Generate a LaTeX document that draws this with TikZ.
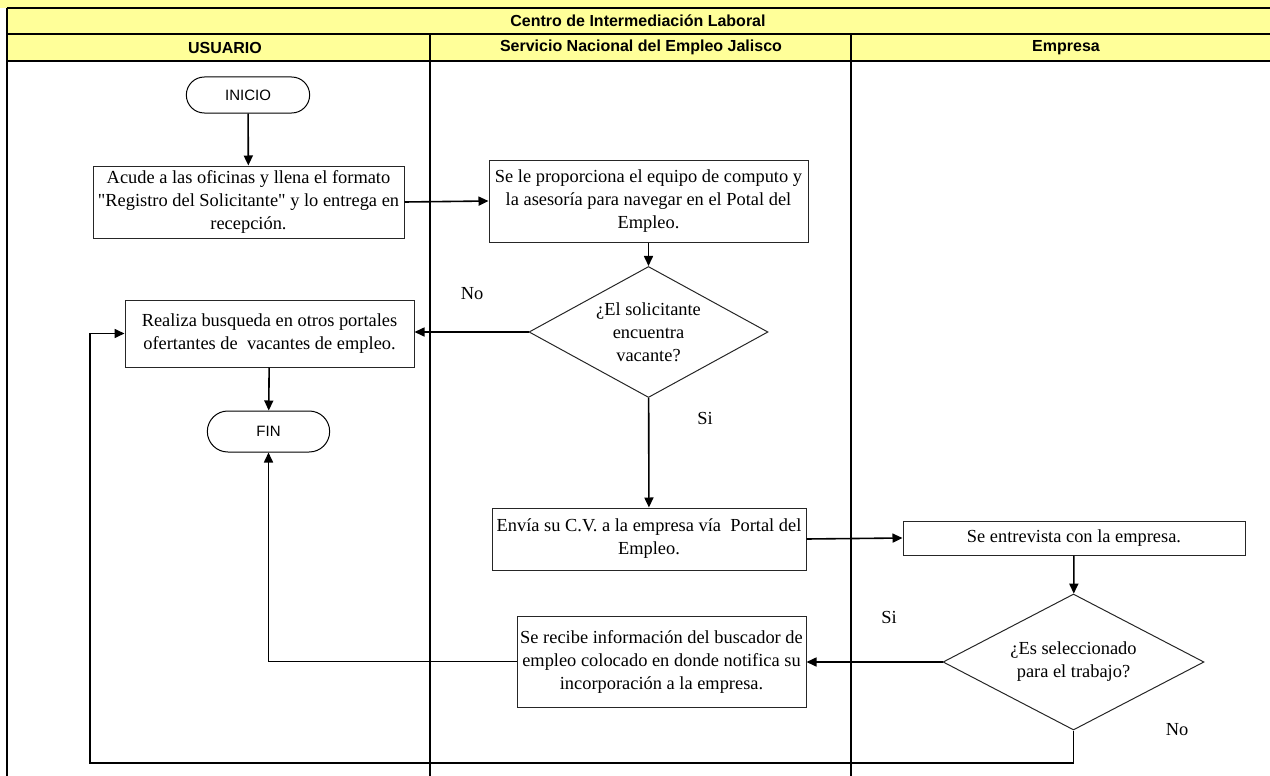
\documentclass[tikz,border=0pt]{standalone}
\usepackage{fontspec}
\setmainfont{Liberation Serif}
\setsansfont{Liberation Sans}
\usepackage{tikz}
\usetikzlibrary{arrows.meta}
\usetikzlibrary{shapes.geometric}
\usetikzlibrary{shapes.misc}
\usetikzlibrary{positioning}

\definecolor{encabezado}{HTML}{FFFF99}

\begin{document}
\begin{tikzpicture}[x=1pt,y=-1pt,
    font=\fontsize{18.4}{23}\selectfont,
    proceso/.style={draw=black!85,line width=1pt,rectangle,align=center,inner sep=2pt},
    decision/.style={draw=black!85,line width=1pt,diamond,inner sep=0pt},
    terminal/.style={draw,line width=1pt,rounded rectangle,font=\sffamily\fontsize{15}{17}\selectfont},
    titulo/.style={font=\sffamily\bfseries\fontsize{16}{18}\selectfont},
    flecha/.style={line width=1.6pt,-{Triangle[length=10pt,width=9pt]}},
    carril/.style={line width=2.8pt}]

  \useasboundingbox (0,0) rectangle (1270,776);

  % encabezado
  \fill [encabezado] (0,0) rectangle (1270,8);
  \fill [encabezado] (7,8) rectangle (1270,61);
  \draw [carril] (7,8) -- (1270,8);
  \draw [carril] (7,34) -- (1270,34);
  \draw [carril] (7,61) -- (1270,61);
  \draw [carril] (7,8) -- (7,776);
  \draw [carril] (430,34) -- (430,776);
  \draw [carril] (851,34) -- (851,776);

  \node [titulo] (centro)   at (638,21)   {Centro de Intermediación Laboral};
  \node [titulo] (usuario)  at (225,47.5) {USUARIO};
  \node [titulo] (servicio) at (641,47.5) {Servicio Nacional del Empleo Jalisco};
  \node [titulo] (empresa)  at (1066,47.5) {Empresa};

  % nodos
  \node [terminal,minimum width=130,minimum height=36] (inicio) at (248,95) {INICIO};
  \node [proceso,minimum width=311,minimum height=72] (acude) at (248.5,202)
    {Acude a las oficinas y llena el formato\\\textquotedbl Registro del Solicitante\textquotedbl{} y lo entrega en\\recepción.};
  \node [proceso,minimum width=319,minimum height=82] (proporciona) at (648.5,201)
    {Se le proporciona el equipo de computo y\\la asesoría para navegar en el Potal del\\Empleo.};
  \node [decision,minimum width=239,minimum height=131,
    label={[align=center]center:¿El solicitante\\encuentra\\vacante?}] (encuentra) at (648.5,332) {};
  \node [proceso,minimum width=289,minimum height=67] (realiza) at (269.5,333.5)
    {Realiza busqueda en otros portales\\ofertantes de\ \ vacantes de empleo.};
  \node [terminal,minimum width=129,minimum height=41] (fin) at (268.5,431.5) {FIN};
  \node [proceso,minimum width=314,minimum height=62] (envia) at (649,539)
    {Envía su C.V. a la empresa vía\ \ Portal del\\Empleo.};
  \node [proceso,minimum width=342,minimum height=34] (entrevista) at (1074,538)
    {Se entrevista con la empresa.};
  \node [decision,minimum width=261,minimum height=136,
    label={[align=center]center:¿Es seleccionado\\para el trabajo?}] (seleccionado) at (1073.5,662) {};
  \node [proceso,minimum width=289,minimum height=91] (recibe) at (661.5,661.5)
    {Se recibe información del buscador de\\empleo colocado en donde notifica su\\incorporación a la empresa.};

  \node (no1) at (472,294) {No};
  \node (si1) at (705,418) {Si};
  \node (si2) at (889,617) {Si};
  \node (no2) at (1177,730) {No};

  \coordinate (vuelta) at (90,763);

  % conexiones
  \draw [flecha] (inicio) -- (acude);
  \draw [flecha] (acude.east) -- (proporciona.west);
  \draw [flecha] (proporciona) -- (encuentra);
  \draw [flecha] (encuentra.west) -- (realiza.east |- encuentra.west);
  \draw [flecha] (realiza) -- (fin);
  \draw [flecha] (encuentra) -- (envia);
  \draw [flecha] (envia.east) -- (entrevista.west);
  \draw [flecha] (entrevista) -- (seleccionado);
  \draw [flecha] (seleccionado.west) -- (recibe.east |- seleccionado.west);
  \draw [flecha] (recibe.west) -| (fin.south);
  \draw [flecha] (seleccionado.south) |- (vuelta) |- (realiza.west);

\end{tikzpicture}
\end{document}
